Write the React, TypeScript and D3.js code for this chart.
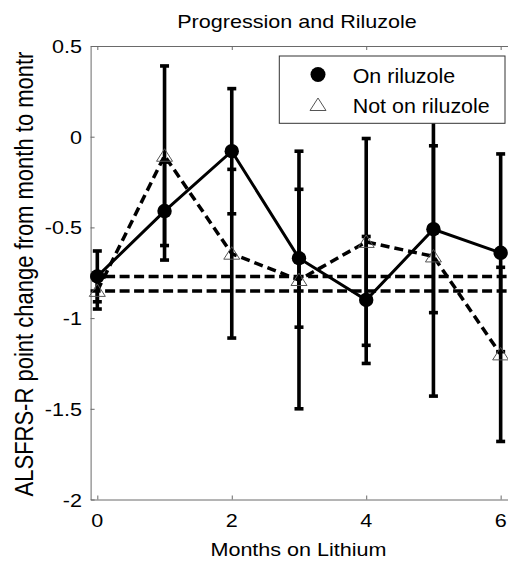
import React, { useEffect, useRef } from 'react';
import * as d3 from 'd3';

// values
const months = [0, 1, 2, 3, 4, 5, 6];
const onRiluzole = [-0.77, -0.41, -0.08, -0.67, -0.9, -0.51, -0.64];
const onRiluzoleErr = [0.14, 0.27, 0.345, 0.38, 0.35, 0.46, 0.545];
const notOnRiluzole = [-0.85, -0.105, -0.645, -0.79, -0.58, -0.66, -1.2];
const notOnRiluzoleErr = [0.1, 0.495, 0.465, 0.71, 0.57, 0.77, 0.48];
const baselineLevels = [-0.77, -0.85];
const xTicks = [0, 2, 4, 6];
const yTicks = [0.5, 0, -0.5, -1, -1.5, -2];
const seriesNames = ['On riluzole', 'Not on riluzole'];

const FONT = 'Arial, "Liberation Sans", Helvetica, sans-serif';

export default function App() {
  const ref = useRef<SVGSVGElement>(null);

  useEffect(() => {
    const svg = d3.select(ref.current);
    svg.selectAll('*').remove();

    const x = d3.scaleLinear().domain([-0.1, 6.2]).range([90.6, 514.1]);
    const y = d3.scaleLinear().domain([-2, 0.5]).range([499.5, 46]);
    const axisColor = '#6a6a6a';

    // wide-ish text, the original font renders stretched
    const text = (parent: any, px: number, py: number, str: string, size: number,
      anchor: string, sx = 1.16, rotate = 0) => {
      parent.append('g')
        .attr('transform', `translate(${px},${py}) scale(${sx},1) rotate(${rotate})`)
        .append('text')
        .attr('text-anchor', anchor)
        .attr('font-family', FONT)
        .attr('font-size', size)
        .attr('fill', '#000')
        .text(str);
    };

    // axes box + inward ticks
    const axes = svg.append('g');
    axes.append('g').attr('transform', `translate(0,${y(-2)})`)
      .call(d3.axisBottom(x).tickValues(xTicks).tickSizeInner(-4).tickSizeOuter(0).tickFormat(() => ''));
    axes.append('g').attr('transform', `translate(0,${y(0.5)})`)
      .call(d3.axisTop(x).tickValues(xTicks).tickSizeInner(-4).tickSizeOuter(0).tickFormat(() => ''));
    axes.append('g').attr('transform', `translate(${x(-0.1)},0)`)
      .call(d3.axisLeft(y).tickValues(yTicks).tickSizeInner(-4).tickSizeOuter(0).tickFormat(() => ''));
    axes.selectAll('path, line').attr('stroke', axisColor).attr('stroke-width', 1);

    yTicks.forEach(t => text(svg, 82, y(t) + 7, String(t), 18.6, 'end'));
    xTicks.forEach(t => text(svg, x(t), 526.7, String(t), 18.6, 'middle'));

    text(svg, 297, 28, 'Progression and Riluzole', 18.6, 'middle');
    text(svg, 298.5, 556, 'Months on Lithium', 18.6, 'middle');
    text(svg, 33, 274, 'ALSFRS-R point change from month to montr', 22, 'middle', 1.16, -90);

    // horizontal reference lines
    svg.append('g').selectAll('line')
      .data(baselineLevels)
      .join('line')
      .attr('x1', x(-0.1)).attr('x2', x(6.2))
      .attr('y1', d => y(d)).attr('y2', d => y(d))
      .attr('stroke', '#000').attr('stroke-width', 3.5)
      .attr('stroke-dasharray', '10,4.5');

    const errorBars = (means: number[], errs: number[]) => {
      const g = svg.append('g').attr('stroke', '#000').attr('stroke-width', 3.6);
      months.forEach((m, i) => {
        const cx = x(m);
        const lo = y(means[i] - errs[i]);
        const hi = y(means[i] + errs[i]);
        g.append('line').attr('x1', cx).attr('x2', cx).attr('y1', lo).attr('y2', hi);
        g.append('line').attr('x1', cx - 4.5).attr('x2', cx + 4.5).attr('y1', lo).attr('y2', lo);
        g.append('line').attr('x1', cx - 4.5).attr('x2', cx + 4.5).attr('y1', hi).attr('y2', hi);
      });
    };

    const line = d3.line<number>().x((d, i) => x(months[i])).y(d => y(d));

    errorBars(onRiluzole, onRiluzoleErr);
    svg.append('path').attr('d', line(onRiluzole))
      .attr('fill', 'none').attr('stroke', '#000').attr('stroke-width', 3);
    svg.append('g').selectAll('circle')
      .data(onRiluzole)
      .join('circle')
      .attr('cx', (d, i) => x(months[i])).attr('cy', d => y(d))
      .attr('r', 7.2).attr('fill', '#000');

    errorBars(notOnRiluzole, notOnRiluzoleErr);
    svg.append('path').attr('d', line(notOnRiluzole))
      .attr('fill', 'none').attr('stroke', '#000').attr('stroke-width', 3.5)
      .attr('stroke-dasharray', '9,5');

    const tri = (cx: number, cy: number) =>
      `M${cx},${cy - 7}L${cx + 8},${cy + 5.5}L${cx - 8},${cy + 5.5}Z`;
    svg.append('g').selectAll('path')
      .data(notOnRiluzole)
      .join('path')
      .attr('d', (d, i) => tri(x(months[i]), y(d)))
      .attr('fill', 'none').attr('stroke', '#555').attr('stroke-width', 1);

    // legend
    const lg = svg.append('g');
    lg.append('rect')
      .attr('x', 279.3).attr('y', 56).attr('width', 225.7).attr('height', 67.3)
      .attr('fill', '#fff').attr('stroke', '#333').attr('stroke-width', 1);
    lg.append('circle').attr('cx', 318).attr('cy', 74.5).attr('r', 7.5).attr('fill', '#000');
    lg.append('path').attr('d', tri(318, 105)).attr('fill', 'none').attr('stroke', '#555').attr('stroke-width', 1);
    text(lg, 352.7, 82.7, seriesNames[0], 19.5, 'start', 1.1);
    text(lg, 352.7, 113.3, seriesNames[1], 19.5, 'start', 1.1);
  }, []);

  return (
    <svg ref={ref} width={508} height={563}
      style={{ position: 'absolute', left: 0, top: 0, background: '#fff' }} />
  );
}
